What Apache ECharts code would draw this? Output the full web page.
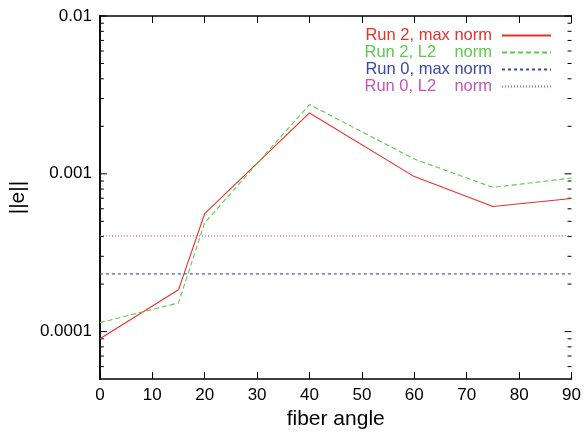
<!DOCTYPE html>
<html>
<head>
<meta charset="utf-8">
<script src="https://cdn.jsdelivr.net/npm/echarts@6/dist/echarts.min.js"></script>
<style>
html,body{margin:0;padding:0;background:#fff;}
#chart{width:584px;height:435px;}
</style>
</head>
<body>
<div id="chart"></div>
<script>
// ---- data ----
const fiberAngles = [0, 15, 20, 40, 60, 75, 90];
const run2Max = [9.0e-5, 1.84e-4, 5.6e-4, 2.43e-3, 9.6e-4, 6.2e-4, 6.97e-4];
const run2L2  = [1.14e-4, 1.52e-4, 4.9e-4, 2.75e-3, 1.24e-3, 8.2e-4, 9.4e-4];
const run0MaxLevel = 2.32e-4;
const run0L2Level  = 4.04e-4;
const xRange = [0, 90];
const yRange = [5e-5, 0.01];
const majorYTicks = [1e-4, 1e-3, 1e-2];
const minorYTicks = [6e-5, 7e-5, 8e-5, 9e-5,
  2e-4, 3e-4, 4e-4, 5e-4, 6e-4, 7e-4, 8e-4, 9e-4,
  2e-3, 3e-3, 4e-3, 5e-3, 6e-3, 7e-3, 8e-3, 9e-3];
const seriesNames = ['Run 2, max norm', 'Run 2, L2    norm', 'Run 0, max norm', 'Run 0, L2    norm'];
const colors = ['#e8312b', '#5ec94a', '#3a48a8', '#c455ba'];

const FONT = 'Liberation Sans, Arial, sans-serif';
const chart = echarts.init(document.getElementById('chart'), null, {renderer: 'canvas'});

function pairs(xs, ys) { return xs.map((x, i) => [x, ys[i]]); }
function flat(v) { return [[xRange[0], v], [xRange[1], v]]; }

const tickData = majorYTicks.map(v => [xRange[0], v, 7]).concat(minorYTicks.map(v => [xRange[0], v, 4]));

const axisLineStyle = {color: '#000', width: 1.5};

const option = {
  animation: false,
  backgroundColor: '#fff',
  grid: {left: 98, right: 11, top: 16, bottom: 55, containLabel: false},
  xAxis: [{
    type: 'value', min: xRange[0], max: xRange[1], interval: 10,
    name: 'fiber angle', nameLocation: 'middle', nameGap: 29,
    nameTextStyle: {fontFamily: FONT, fontSize: 21, color: '#000'},
    axisLine: {show: true, lineStyle: axisLineStyle},
    axisTick: {show: true, inside: true, length: 7, lineStyle: {color: '#000', width: 1}},
    axisLabel: {fontFamily: FONT, fontSize: 17, color: '#000', margin: 8},
    splitLine: {show: false}
  }, {
    type: 'value', min: xRange[0], max: xRange[1], interval: 10, position: 'top',
    axisLine: {show: true, lineStyle: axisLineStyle},
    axisTick: {show: true, inside: true, length: 7, lineStyle: {color: '#000', width: 1}},
    axisLabel: {show: false},
    splitLine: {show: false}
  }],
  yAxis: [{
    type: 'log', logBase: 10, min: yRange[0], max: yRange[1],
    name: '||e||', nameLocation: 'middle', nameGap: 62,
    nameTextStyle: {fontFamily: FONT, fontSize: 21, color: '#000'},
    axisLine: {show: true, lineStyle: axisLineStyle},
    axisTick: {show: false},
    axisLabel: {
      fontFamily: FONT, fontSize: 17, color: '#000', margin: 8,
      formatter: function (v) {
        const l = Math.log10(v);
        return Math.abs(l - Math.round(l)) < 1e-6 ? String(+v.toPrecision(6)) : '';
      }
    },
    splitLine: {show: false}
  }, {
    type: 'log', logBase: 10, min: yRange[0], max: yRange[1], position: 'right',
    axisLine: {show: true, lineStyle: axisLineStyle},
    axisTick: {show: false},
    axisLabel: {show: false},
    splitLine: {show: false}
  }],
  legend: {
    orient: 'vertical', right: 27, top: 22, align: 'right',
    itemWidth: 49, itemHeight: 10, itemGap: 0,
    textStyle: {fontFamily: FONT, fontSize: 16.5, lineHeight: 16.6, padding: [0, 5, 0, 0]},
    itemStyle: {opacity: 0},
    selectedMode: false
  },
  series: [
    {
      name: seriesNames[0], type: 'line', data: pairs(fiberAngles, run2Max),
      showSymbol: false, symbol: 'none', color: colors[0],
      lineStyle: {color: colors[0], width: 1.1, type: 'solid'}
    },
    {
      name: seriesNames[1], type: 'line', data: pairs(fiberAngles, run2L2),
      showSymbol: false, symbol: 'none', color: colors[1],
      lineStyle: {color: colors[1], width: 1.1, type: [5, 3]}
    },
    {
      name: seriesNames[2], type: 'line', data: flat(run0MaxLevel),
      showSymbol: false, symbol: 'none', color: colors[2],
      lineStyle: {color: colors[2], width: 1.1, type: [3, 3]}
    },
    {
      name: seriesNames[3], type: 'line', data: flat(run0L2Level),
      showSymbol: false, symbol: 'none', color: colors[3],
      lineStyle: {color: colors[3], width: 1.1, type: [1, 2]}
    },
    {
      type: 'custom', silent: true, clip: false,
      data: tickData,
      renderItem: function (params, api) {
        const v = api.value(1), len = api.value(2);
        const pl = api.coord([xRange[0], v]);
        const pr = api.coord([xRange[1], v]);
        return {
          type: 'group',
          children: [
            {type: 'line', shape: {x1: pl[0], y1: pl[1], x2: pl[0] + len, y2: pl[1]}, style: {stroke: '#000', lineWidth: 1}},
            {type: 'line', shape: {x1: pr[0], y1: pr[1], x2: pr[0] - len, y2: pr[1]}, style: {stroke: '#000', lineWidth: 1}}
          ]
        };
      }
    }
  ]
};

option.legend.data = seriesNames.map((n, i) => ({name: n, textStyle: {color: colors[i]}}));

chart.setOption(option);
</script>
</body>
</html>
